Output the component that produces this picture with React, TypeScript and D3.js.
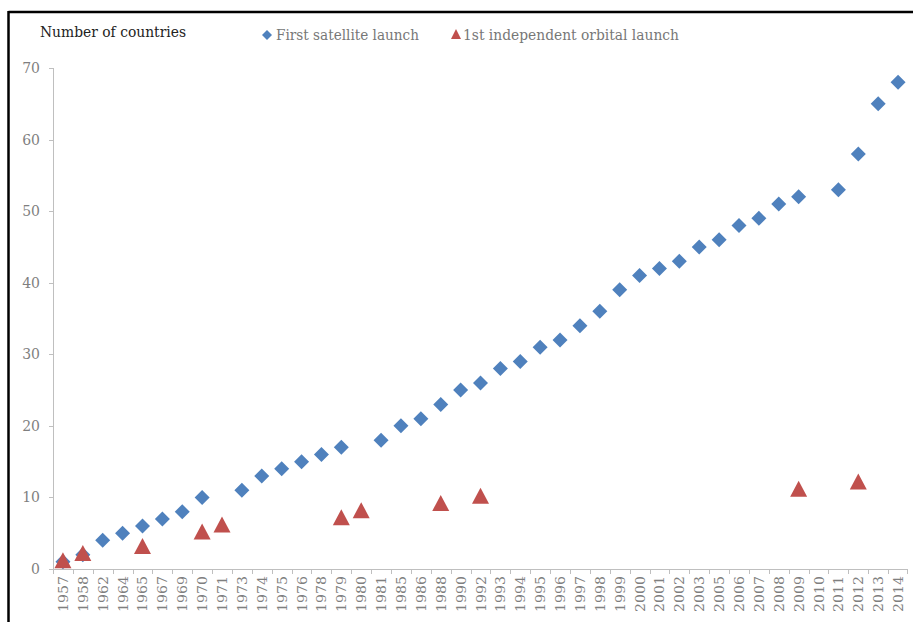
import React from "react";
import * as d3 from "d3";

const years = ["1957","1958","1962","1964","1965","1967","1969","1970","1971","1973","1974","1975","1976","1978","1979","1980","1981","1985","1986","1988","1990","1992","1993","1994","1995","1996","1997","1998","1999","2000","2001","2002","2003","2005","2006","2007","2008","2009","2010","2011","2012","2013","2014"];

const satYears = ["1957","1958","1962","1964","1965","1967","1969","1970","1973","1974","1975","1976","1978","1979","1981","1985","1986","1988","1990","1992","1993","1994","1995","1996","1997","1998","1999","2000","2001","2002","2003","2005","2006","2007","2008","2009","2011","2012","2013","2014"];
const satValues = [1,2,4,5,6,7,8,10,11,13,14,15,16,17,18,20,21,23,25,26,28,29,31,32,34,36,39,41,42,43,45,46,48,49,51,52,53,58,65,68];

const orbYears = ["1957","1958","1965","1970","1971","1979","1980","1988","1992","2009","2012"];
const orbValues = [1,2,3,5,6,7,8,9,10,11,12];

const yTicks = [0,10,20,30,40,50,60,70];

const BLUE = "#4f81bd";
const RED = "#c0504d";
const FONT = "'DejaVu Serif', 'Liberation Serif', serif";

export default function App() {
  const W = 913, H = 622;
  const x = d3.scaleBand<string>().domain(years).range([53, 908]).padding(0);
  const y = d3.scaleLinear().domain([0, 70]).range([569, 68]);
  const bw = x.bandwidth();
  const cx = (yr: string) => (x(yr) as number) + bw / 2;

  const diamond = (r: number) => `M0,${-r}L${r},0L0,${r}L${-r},0Z`;
  const tri = (w: number, h: number) => `M0,${-h * 0.6}L${w / 2},${h * 0.4}L${-w / 2},${h * 0.4}Z`;

  return (
    <svg width={W} height={H} style={{ position: "absolute", left: 0, top: 0, background: "#fff" }}>
      <rect x={0} y={0} width={W} height={H} fill="#fff" />
      {/* frame */}
      <line x1={8.5} y1={12} x2={W} y2={12} stroke="#000" strokeWidth={2.5} />
      <line x1={8.5} y1={11} x2={8.5} y2={H} stroke="#000" strokeWidth={2.5} />

      {/* axis title */}
      <text x={40} y={37} fontFamily={FONT} fontSize={14} fill="#222" textLength={146} lengthAdjust="spacingAndGlyphs">Number of countries</text>

      {/* legend */}
      <path d={diamond(5)} transform="translate(267,35)" fill={BLUE} />
      <text x={276} y={40} fontFamily={FONT} fontSize={14} fill="#777" textLength={143} lengthAdjust="spacingAndGlyphs">First satellite launch</text>
      <path d={tri(10, 10)} transform="translate(456,35)" fill={RED} />
      <text x={463} y={40} fontFamily={FONT} fontSize={14} fill="#777" textLength={216} lengthAdjust="spacingAndGlyphs">1st independent orbital launch</text>

      {/* y axis */}
      <line x1={53.5} y1={y(70)} x2={53.5} y2={y(0)} stroke="#bfbfbf" />
      {yTicks.map((t) => (
        <g key={t}>
          <line x1={49} x2={53.5} y1={Math.round(y(t)) + 0.5} y2={Math.round(y(t)) + 0.5} stroke="#bfbfbf" />
          <text x={40} y={y(t) + 5} textAnchor="end" fontFamily={FONT} fontSize={14} fill="#7f7f7f">{t}</text>
        </g>
      ))}

      {/* x axis */}
      <line x1={53} x2={908} y1={569.5} y2={569.5} stroke="#bfbfbf" />
      {years.map((yr) => (
        <line key={"t" + yr} x1={Math.round(x(yr) as number) + 0.5} x2={Math.round(x(yr) as number) + 0.5} y1={569.5} y2={574} stroke="#bfbfbf" />
      ))}
      <line x1={907.5} x2={907.5} y1={569.5} y2={574} stroke="#bfbfbf" />
      {years.map((yr) => (
        <text key={"l" + yr} transform={`translate(${cx(yr) + 5},${576}) rotate(-90)`} textAnchor="end" fontFamily={FONT} fontSize={13.5} fill="#7f7f7f" textLength={36} lengthAdjust="spacingAndGlyphs">{yr}</text>
      ))}

      {/* series */}
      {satYears.map((yr, i) => (
        <path key={"s" + yr} d={diamond(7.5)} transform={`translate(${cx(yr)},${y(satValues[i])})`} fill={BLUE} />
      ))}
      {orbYears.map((yr, i) => (
        <path key={"o" + yr} d={tri(17, 16)} transform={`translate(${cx(yr)},${y(orbValues[i])})`} fill={RED} />
      ))}
    </svg>
  );
}
